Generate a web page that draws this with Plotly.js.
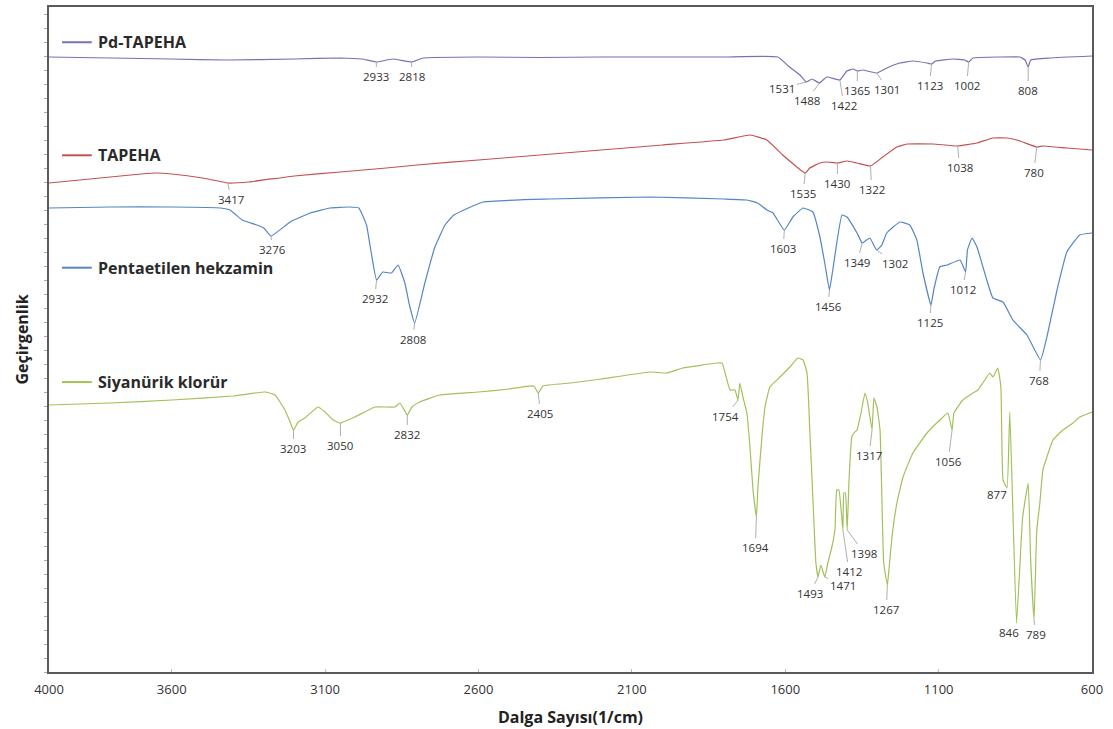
<!DOCTYPE html>
<html>
<head>
<meta charset="utf-8">
<script src="https://cdn.plot.ly/plotly-3.0.1.min.js"></script>
<style>
  html, body { margin: 0; padding: 0; background: #ffffff; }
  #chart { width: 1113px; height: 729px; }
</style>
</head>
<body>
<div id="chart"></div>
<script>
// FTIR spectra, stacked with vertical offsets (transmittance, arbitrary units)
const seriesNames = ['Pd-TAPEHA', 'TAPEHA', 'Pentaetilen hekzamin', 'Siyanürik klorür'];

const pdWn = [4000, 3800, 3600, 3420, 3200, 3050, 2980, 2933, 2880, 2818, 2780, 2600, 2400, 2200, 2000, 1800, 1624, 1590, 1552, 1531, 1513, 1488, 1465, 1422, 1399, 1379, 1365, 1347, 1301, 1269, 1226, 1184, 1138, 1123, 1110, 1053, 1015, 1002, 988, 900, 835, 818, 808, 800, 737, 600];
const pdT  = [615, 614, 613, 612, 613, 614, 613, 610, 613, 610, 614, 615, 614.5, 615, 615, 615, 615, 606, 597, 590, 593, 589, 595, 592, 601, 603, 601, 602, 599, 604, 609, 611, 609, 608, 611, 613, 612, 610, 614, 615, 615, 612, 605, 612, 614, 616];

const tapehaWn = [4000, 3900, 3800, 3700, 3650, 3600, 3500, 3417, 3350, 3200, 3050, 2900, 2800, 2600, 2400, 2200, 2000, 1800, 1715, 1660, 1608, 1535, 1520, 1487, 1465, 1430, 1399, 1366, 1322, 1282, 1236, 1203, 1118, 1038, 975, 923, 877, 835, 780, 760, 682, 600];
const tapehaT  = [489, 492, 495, 498, 499, 498, 494, 489, 490, 496, 500, 504, 507, 512, 517, 522, 527, 532, 537, 532, 517, 499, 504, 509, 510, 509, 511, 509, 506, 515, 525, 528, 528, 526, 529, 534, 534, 531, 525, 526, 524, 522];

const pehaWn = [4000, 3800, 3600, 3440, 3410, 3370, 3322, 3300, 3276, 3214, 3149, 3084, 3020, 2990, 2965, 2950, 2932, 2912, 2884, 2862, 2840, 2825, 2808, 2774, 2742, 2709, 2680, 2585, 2367, 2041, 1800, 1725, 1690, 1660, 1640, 1603, 1575, 1542, 1510, 1487, 1470, 1456, 1445, 1415, 1399, 1366, 1349, 1335, 1324, 1302, 1285, 1269, 1226, 1194, 1171, 1151, 1125, 1116, 1096, 1072, 1030, 1012, 1006, 991, 975, 943, 923, 890, 858, 812, 768, 747, 714, 682, 640, 600];
const pehaT  = [464, 465, 465, 464, 462, 452, 447, 444, 436, 450, 459, 464, 465, 464, 447, 420, 392, 400, 399, 407, 389, 367, 349, 390, 425, 447, 457, 470, 473, 475, 473, 472, 469, 462, 459, 442, 455, 464, 460, 435, 407, 382, 402, 457, 455, 439, 429, 432, 434, 422, 427, 439, 450, 447, 432, 399, 367, 382, 405, 407, 412, 400, 422, 434, 425, 392, 374, 370, 352, 337, 312, 335, 382, 420, 437, 439];

const cyanWn = [4000, 3800, 3600, 3400, 3296, 3263, 3231, 3214, 3203, 3188, 3166, 3123, 3100, 3074, 3050, 3003, 2937, 2872, 2856, 2832, 2817, 2791, 2726, 2600, 2500, 2420, 2405, 2390, 2300, 2200, 2041, 1986, 1934, 1823, 1806, 1790, 1780, 1764, 1754, 1748, 1738, 1725, 1715, 1705, 1694, 1689, 1676, 1666, 1650, 1617, 1585, 1559, 1542, 1529, 1520, 1510, 1500, 1493, 1484, 1471, 1461, 1448, 1438, 1432, 1425, 1412, 1409, 1404, 1398, 1392, 1383, 1376, 1366, 1353, 1340, 1331, 1317, 1311, 1301, 1291, 1285, 1279, 1267, 1262, 1252, 1236, 1216, 1184, 1138, 1096, 1070, 1056, 1050, 1021, 988, 972, 956, 933, 923, 907, 897, 890, 877, 868, 846, 826, 808, 800, 789, 780, 770, 760, 727, 695, 662, 640, 600];
const cyanT  = [267, 269, 272, 276, 280, 277, 262, 250, 242, 250, 254, 265, 260, 252, 249, 255, 265, 265, 269, 257, 265, 270, 277, 280, 283, 286, 279, 286, 289, 293, 300, 299, 304, 309, 309, 292, 282, 282, 272, 289, 275, 259, 225, 182, 155, 185, 235, 265, 285, 295, 305, 314, 312, 299, 242, 175, 109, 95, 107, 95, 109, 125, 142, 182, 182, 142, 179, 179, 142, 192, 235, 239, 242, 259, 279, 269, 242, 274, 265, 242, 175, 109, 87, 102, 135, 169, 195, 219, 239, 252, 259, 242, 259, 272, 279, 282, 289, 299, 295, 304, 285, 192, 184, 260, 49, 155, 189, 112, 52, 142, 169, 202, 232, 242, 249, 255, 260];

// labelled band positions (cm-1)
const pdPeaks     = [2933, 2818, 1531, 1488, 1422, 1365, 1301, 1123, 1002, 808];
const tapehaPeaks = [3417, 1535, 1430, 1322, 1038, 780];
const pehaPeaks   = [3276, 2932, 2808, 1603, 1456, 1349, 1302, 1125, 1012, 768];
const cyanPeaks   = [3203, 3050, 2832, 2405, 1754, 1694, 1493, 1471, 1412, 1398, 1317, 1267, 1056, 877, 846, 789];

const xTicks = [4000, 3600, 3100, 2600, 2100, 1600, 1100, 600];

// styling
const colors = ['#7373b5', '#c55050', '#5585c5', '#a3c05a'];
const legendY = [0.947, 0.777, 0.608, 0.436];
// label placement (pixel offset of each label from its band: [dx, dy])
const labelOffsets = [
  [[0,14],[0,14],[-24,6],[-13,17],[4,25],[0,19],[10,16],[-2,21],[-2,23],[0,23]],
  [[3,16],[-2,20],[0,20],[1,23],[2,21],[-3,25]],
  [[1,13],[-2,18],[-2,16],[-1,18],[-1,16],[-5,19],[18,13],[-1,17],[-3,17],[-1,20]],
  [[0,18],[0,22],[0,19],[2,20],[-12,16],[-1,30],[-8,16],[18,8],[6,41],[17,23],[-3,25],[-1,24],[-4,31],[-10,6],[-8,9],[2,14]]
];

const wnSets = [pdWn, tapehaWn, pehaWn, cyanWn];
const tSets = [pdT, tapehaT, pehaT, cyanT];
const peakSets = [pdPeaks, tapehaPeaks, pehaPeaks, cyanPeaks];

const FONT = 'Open Sans, Noto Sans, DejaVu Sans, sans-serif';

const traces = seriesNames.map((name, i) => ({
  type: 'scatter',
  mode: 'lines',
  name: name,
  x: wnSets[i],
  y: tSets[i],
  line: { color: colors[i], width: 1.2, shape: 'spline', smoothing: 0.35 },
  hoverinfo: 'x+name'
}));

const annotations = [];
const shapes = [];

// in-plot series keys
seriesNames.forEach((name, i) => {
  shapes.push({
    type: 'line', xref: 'paper', yref: 'paper',
    x0: 0.0125, x1: 0.041, y0: legendY[i], y1: legendY[i],
    line: { color: colors[i], width: 2 }
  });
  annotations.push({
    xref: 'paper', yref: 'paper', x: 0.045, y: legendY[i],
    xanchor: 'left', yanchor: 'middle', showarrow: false,
    text: name,
    font: { family: FONT, size: 16, color: '#2a2a2a', weight: 700 }
  });
});

// band labels with leader lines
peakSets.forEach((peaks, i) => {
  peaks.forEach((wn, k) => {
    const idx = wnSets[i].indexOf(wn);
    const off = labelOffsets[i][k];
    annotations.push({
      x: wn, y: tSets[i][idx], xref: 'x', yref: 'y',
      text: String(wn),
      showarrow: true, arrowhead: 0, arrowwidth: 0.8, arrowcolor: '#9a9a9a',
      standoff: 0, startstandoff: 0,
      ax: off[0], ay: off[1],
      font: { family: FONT, size: 11.5, color: '#333333' }
    });
  });
});

const layout = {
  width: 1113, height: 729,
  margin: { l: 49, r: 21, t: 7, b: 57 },
  paper_bgcolor: '#ffffff', plot_bgcolor: '#ffffff',
  showlegend: false,
  font: { family: FONT, color: '#333333' },
  xaxis: {
    range: [4000, 600],
    tickmode: 'array', tickvals: xTicks, ticktext: xTicks.map(String),
    showgrid: false, zeroline: false,
    showline: true, mirror: true, linecolor: '#5a5a5a', linewidth: 1.6,
    ticks: 'inside', ticklen: 3, tickcolor: '#bbbbbb',
    ticklabelstandoff: 5,
    tickfont: { family: FONT, size: 13, color: '#333333' },
    title: { text: 'Dalga Sayısı(1/cm)', standoff: 14,
             font: { family: FONT, size: 16, color: '#222222', weight: 700 } }
  },
  yaxis: {
    range: [0, 665],
    showticklabels: false,
    showgrid: false, zeroline: false,
    showline: true, mirror: true, linecolor: '#5a5a5a', linewidth: 1.6,
    ticks: 'outside', ticklen: 3, tickcolor: '#aaaaaa', tick0: 0, dtick: 14,
    title: { text: 'Geçirgenlik', standoff: 12,
             font: { family: FONT, size: 16, color: '#222222', weight: 700 } }
  },
  annotations: annotations,
  shapes: shapes
};

Plotly.newPlot('chart', traces, layout, { staticPlot: true, displayModeBar: false });
</script>
</body>
</html>
